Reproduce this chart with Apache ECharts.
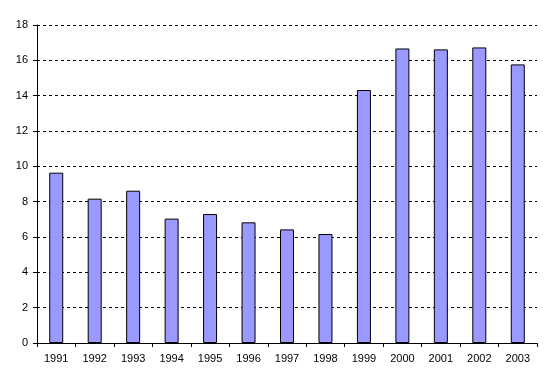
<!DOCTYPE html>
<html>
<head>
<meta charset="utf-8">
<script src="https://cdn.jsdelivr.net/npm/echarts@6/dist/echarts.min.js"></script>
<style>html,body{margin:0;padding:0;background:#fff}#c{width:552px;height:385px}</style>
</head>
<body>
<div id="c"></div>
<script>
const categories = ['1991','1992','1993','1994','1995','1996','1997','1998','1999','2000','2001','2002','2003'];
const values = [9.64, 8.17, 8.62, 7.04, 7.30, 6.83, 6.43, 6.17, 14.32, 16.67, 16.62, 16.73, 15.77];
const yTicks = { min: 0, max: 18, interval: 2 };

const chart = echarts.init(document.getElementById('c'), null, { renderer: 'canvas' });
chart.setOption({
  animation: false,
  backgroundColor: '#ffffff',
  grid: { left: 37, right: 15, top: 25, bottom: 42, containLabel: false },
  xAxis: {
    type: 'category',
    data: categories,
    boundaryGap: true,
    axisLine: { show: true, lineStyle: { color: '#000', width: 1 } },
    axisTick: { show: true, alignWithLabel: false, length: 4, lineStyle: { color: '#000' } },
    axisLabel: { color: '#000', fontFamily: 'Liberation Sans, Arial, sans-serif', fontSize: 11, margin: 10 },
    splitLine: { show: false }
  },
  yAxis: {
    type: 'value',
    min: yTicks.min, max: yTicks.max, interval: yTicks.interval,
    axisLine: { show: true, lineStyle: { color: '#000', width: 1 } },
    axisTick: { show: true, length: 4, lineStyle: { color: '#000' } },
    axisLabel: { color: '#000', fontFamily: 'Liberation Sans, Arial, sans-serif', fontSize: 11, margin: 9 },
    splitLine: { show: true, lineStyle: { color: '#000', type: [3, 3], width: 1 } }
  },
  series: [{
    type: 'bar',
    data: values,
    barWidth: 14,
    itemStyle: { color: '#9999FF', borderColor: '#000', borderWidth: 1 }
  }]
});
</script>
</body>
</html>
